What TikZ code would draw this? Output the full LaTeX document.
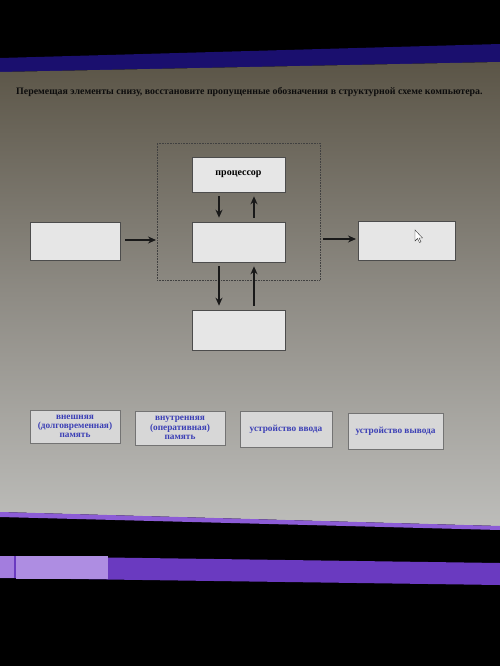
\documentclass[tikz,border=0pt]{standalone}
\usepackage{fontspec}
\setmainfont{Liberation Serif}
\usetikzlibrary{arrows.meta}
\definecolor{scrtop}{HTML}{5B5547}
\definecolor{scrmid}{HTML}{8E8B84}
\definecolor{scrbot}{HTML}{BDBDBA}
\definecolor{barblue}{HTML}{1A0F6E}
\definecolor{barpurple}{HTML}{8C5CD6}
\definecolor{taskpurple}{HTML}{6A3AC0}
\definecolor{boxfill}{HTML}{E6E6E6}
\definecolor{labelblue}{HTML}{3B3FB5}
\tikzset{
  slot/.style={draw=black!70, line width=0.6pt, fill=boxfill, minimum width=93pt, minimum height=38pt, inner sep=0pt},
  chip/.style={draw=black!55, line width=0.5pt, fill=boxfill!85!gray, inner sep=1pt, text=labelblue, font=\bfseries\fontsize{9.3}{9.3}\selectfont, align=center},
  arr/.style={-{Stealth[length=8pt,width=7pt]}, line width=2pt, draw=black!90}
}
\begin{document}
\begin{tikzpicture}[x=1pt,y=-1pt]
\useasboundingbox (0,0) rectangle (500,666);
\fill[black] (0,0) rectangle (500,666);
% blue top bar
\fill[barblue] (0,58) -- (500,44) -- (500,62) -- (0,72) -- cycle;
% screen content
\shade[top color=scrtop, bottom color=scrbot, middle color=scrmid] (0,72) -- (500,62) -- (500,526) -- (0,512) -- cycle;
% purple bottom line
\fill[barpurple] (0,512) -- (500,526) -- (500,530) -- (0,517) -- cycle;
% taskbar
\fill[taskpurple] (0,556) -- (500,563) -- (500,585) -- (0,578) -- cycle;
\fill[barpurple!70!white] (16,556) rectangle (108,579);
\fill[barpurple!80!white] (0,556) rectangle (14,578);
% title
\node[anchor=west, font=\bfseries\fontsize{9.9}{10}\selectfont, text=black!95, inner sep=0pt] (title) at (16,92)
  {Перемещая элементы снизу, восстановите пропущенные обозначения в структурной схеме компьютера.};
% dotted frame
\node[draw=black!75, densely dotted, line width=0.6pt, minimum width=163pt, minimum height=137pt, inner sep=0pt] (frame) at (238.5,211.5) {};
% boxes
\node[slot, minimum height=35pt] (cpu) at (238.5,174.5) {\bfseries\fontsize{10}{11}\selectfont процессор};
\node[slot, minimum height=40pt] (mem) at (238.5,242) {};
\node[slot, minimum height=40pt] (ext) at (238.5,330) {};
\node[slot, minimum width=90pt] (in) at (75,241) {};
\node[slot, minimum width=97pt, minimum height=39pt] (out) at (406.5,240.5) {};
% arrows
\coordinate (a1) at (125,240); \coordinate (a2) at (156,240);
\draw[arr] (a1) -- (a2);
\coordinate (b1) at (323,239); \coordinate (b2) at (356,239);
\draw[arr] (b1) -- (b2);
\draw[arr] ([xshift=-19.5pt,yshift=-4pt]cpu.south) -- ([xshift=-19.5pt,yshift=4pt]mem.north);
\draw[arr] ([xshift=15.5pt,yshift=4pt]mem.north) -- ([xshift=15.5pt,yshift=-4pt]cpu.south);
\draw[arr] ([xshift=-19.5pt,yshift=-4pt]mem.south) -- ([xshift=-19.5pt,yshift=4pt]ext.north);
\draw[arr] ([xshift=15.5pt,yshift=4pt]ext.north) -- ([xshift=15.5pt,yshift=-4pt]mem.south);
% cursor
\draw[fill=white, draw=black!80, line width=0.4pt] (415,230) -- (415,241) -- (417.5,238.5) -- (419.5,242.5) -- (421,241.8) -- (419,238) -- (422.5,238) -- cycle;
% chips
\node[chip, minimum width=90pt, minimum height=33pt] (c1) at (75,426.5) {внешняя\\(долговременная)\\память};
\node[chip, minimum width=90pt, minimum height=34pt] (c2) at (180,428) {внутренняя\\(оперативная)\\память};
\node[chip, minimum width=92pt, minimum height=36pt] (c3) at (286,429) {устройство ввода};
\node[chip, minimum width=95pt, minimum height=36pt] (c4) at (395.5,431) {устройство вывода};
\end{tikzpicture}
\end{document}
